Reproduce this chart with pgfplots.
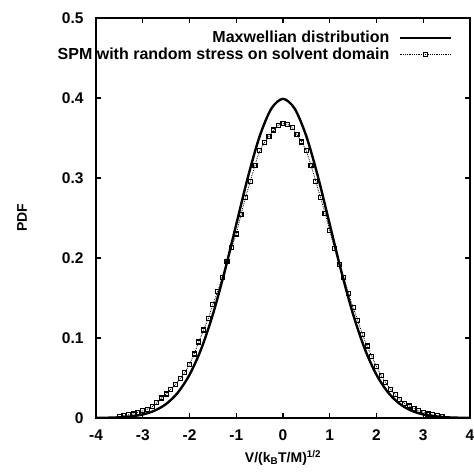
\documentclass[border=0pt]{standalone}
\usepackage{fontspec}
\setmainfont{Liberation Sans}
\usepackage{pgfplots}
\pgfplotsset{compat=1.18}

\pgfplotstableread{
x y
-4.0 0.00013
-3.75 0.00035
-3.5 0.00087
-3.25 0.00203
-3.0 0.00443
-2.75 0.00909
-2.5 0.01753
-2.25 0.03174
-2.0 0.05399
-1.75 0.08628
-1.5 0.12952
-1.25 0.18265
-1.0 0.24197
-0.75 0.30114
-0.5 0.35207
-0.25 0.38667
0.0 0.39894
0.25 0.38667
0.5 0.35207
0.75 0.30114
1.0 0.24197
1.25 0.18265
1.5 0.12952
1.75 0.08628
2.0 0.05399
2.25 0.03174
2.5 0.01753
2.75 0.00909
3.0 0.00443
3.25 0.00203
3.5 0.00087
3.75 0.00035
4.0 0.00013
}\maxwell

\pgfplotstableread{
x y
-3.5 0.002
-3.4 0.003
-3.3 0.004
-3.2 0.005
-3.1 0.007
-3.0 0.009
-2.9 0.011
-2.8 0.014
-2.7 0.019
-2.6 0.025
-2.5 0.030
-2.4 0.036
-2.3 0.042
-2.2 0.049
-2.1 0.057
-2.0 0.067
-1.9 0.080
-1.8 0.095
-1.7 0.110
-1.6 0.124
-1.5 0.142
-1.4 0.158
-1.3 0.176
-1.2 0.196
-1.1 0.213
-1.0 0.230
-0.9 0.254
-0.8 0.276
-0.7 0.296
-0.6 0.316
-0.5 0.334
-0.4 0.344
-0.3 0.352
-0.2 0.360
-0.1 0.366
0.0 0.368
0.1 0.367
0.2 0.363
0.3 0.354
0.4 0.345
0.5 0.334
0.6 0.316
0.7 0.296
0.8 0.276
0.9 0.256
1.0 0.234
1.1 0.212
1.2 0.192
1.3 0.176
1.4 0.156
1.5 0.138
1.6 0.122
1.7 0.104
1.8 0.090
1.9 0.077
2.0 0.064
2.1 0.053
2.2 0.044
2.3 0.036
2.4 0.029
2.5 0.023
2.6 0.018
2.7 0.015
2.8 0.012
2.9 0.009
3.0 0.007
3.1 0.005
3.2 0.004
3.3 0.003
3.4 0.002
}\spm

\begin{document}
\begin{tikzpicture}
\begin{axis}[
    name=ax,
    scale only axis,
    width=374pt, height=400pt,
    xmin=-4, xmax=4,
    ymin=0, ymax=0.5,
    xtick={-4,-3,...,4},
    ytick={0,0.1,0.2,0.3,0.4,0.5},
    yticklabels={0,0.1,0.2,0.3,0.4,0.5},
    tick align=inside,
    major tick length=5pt,
    axis line style={line width=1.6pt},
    every tick/.style={black, line width=1.4pt},
    font=\fontsize{14}{16}\selectfont\bfseries,
    tick label style={font=\fontsize{15.5}{17}\selectfont\bfseries},
    yticklabel style={xshift=-9pt},
    xticklabel style={yshift=-8pt},
    /pgf/number format/assume math mode=true,
    xlabel={V/(k\textsubscript{B}T/M)\textsuperscript{1/2}},
    ylabel={PDF},
    xlabel style={at={(rel axis cs:0.5,-0.1)}, anchor=center},
    ylabel style={at={(rel axis cs:-0.198,0.5)}, anchor=center},
    legend plot pos=right,
    legend cell align=right,
    legend style={draw=none, fill=none, at={(rel axis cs:0.955,0.975)}, anchor=north east,
        font=\fontsize{16}{18}\selectfont\bfseries, row sep=0pt, column sep=7pt, inner sep=1pt},
    legend image code/.code={\draw[mark repeat=2,mark phase=2,#1] plot coordinates {(0cm,0cm) (0.9cm,0cm) (1.8cm,0cm)};},
]
\addplot[black, line width=2.4pt, smooth] table[x=x, y=y] {\maxwell};
\addlegendentry{Maxwellian distribution}
\addplot[black, densely dotted, line width=0.8pt, mark=square, mark size=2pt,
    mark options={solid, line width=1.2pt}] table[x=x, y=y] {\spm};
\addlegendentry{SPM with random stress on solvent domain}
\end{axis}
\pgfresetboundingbox
\path[use as bounding box] ([xshift=-96pt,yshift=-57pt]ax.south west) rectangle ([xshift=3pt,yshift=18pt]ax.north east);
\end{tikzpicture}
\end{document}
